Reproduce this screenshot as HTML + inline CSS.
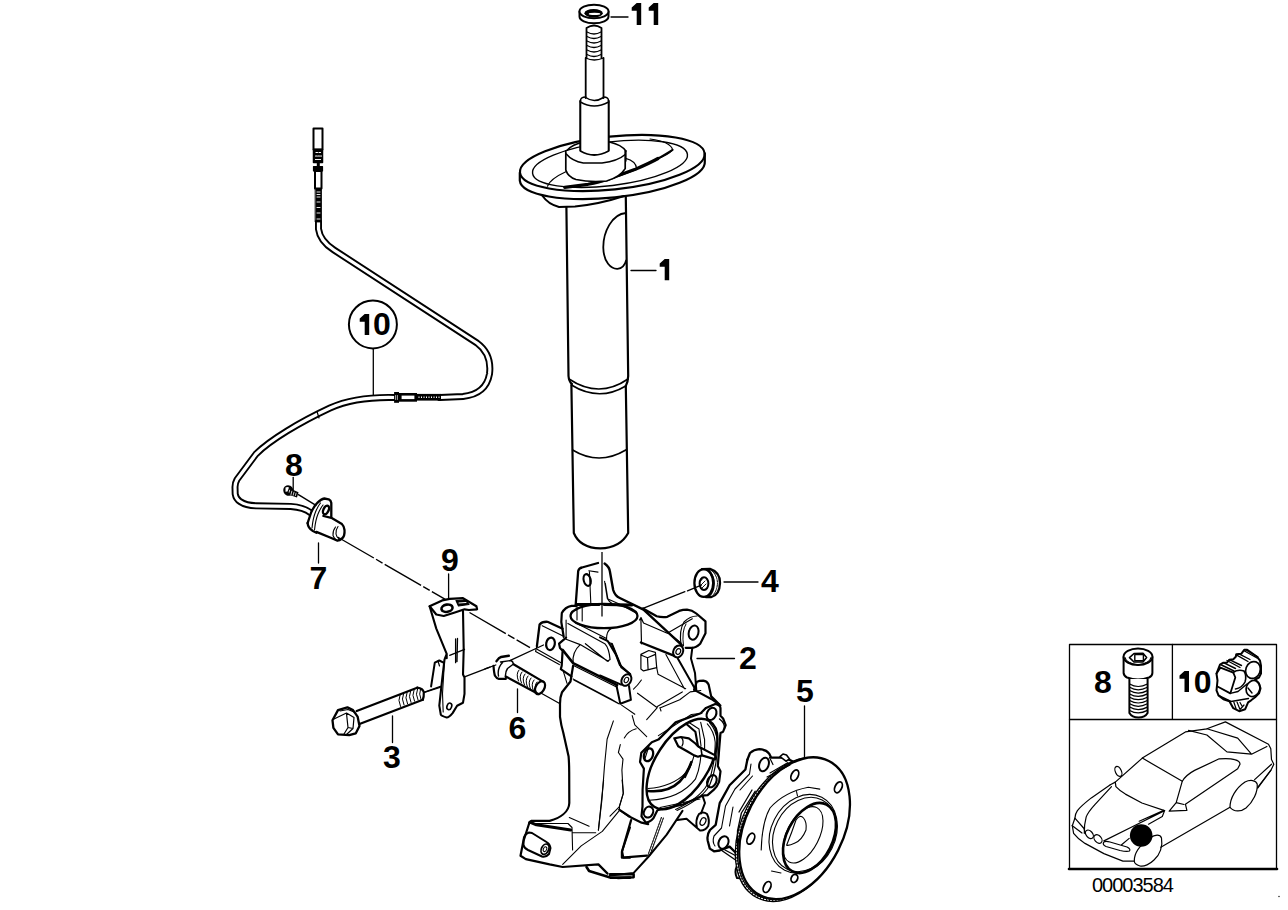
<!DOCTYPE html>
<html><head><meta charset="utf-8"><style>
html,body{margin:0;padding:0;background:#fff;width:1288px;height:910px;overflow:hidden}
svg{display:block}
text{font-family:"Liberation Sans",sans-serif}
.lb{font-weight:bold;font-size:32px;fill:#000}
</style></head><body>
<svg width="1288" height="910" viewBox="0 0 1288 910">
<rect x="0" y="0" width="1288" height="910" fill="#fff"/>
<g fill="none" stroke="#000" stroke-width="1.6" stroke-linejoin="round" stroke-linecap="round">

<!-- ========== LABELS ========== -->
<g id="labels" stroke="none">
<path d="M631.7,7.5L636.7,3.0L641.2,3.0L641.2,25.0L636.7,25.0L636.7,10.8L631.7,10.8Z" fill="#000"/><path d="M648.7,7.5L653.7,3.0L658.2,3.0L658.2,25.0L653.7,25.0L653.7,10.8L648.7,10.8Z" fill="#000"/>
<path d="M659.7,263.5L664.7,259.0L669.2,259.0L669.2,280.2L664.7,280.2L664.7,266.8L659.7,266.8Z" fill="#000"/>
<text class="lb" x="761" y="592">4</text>
<text class="lb" x="739" y="669">2</text>
<text class="lb" x="796" y="702">5</text>
<text class="lb" x="508.5" y="739">6</text>
<text class="lb" x="383" y="768">3</text>
<text class="lb" x="309.6" y="588.6">7</text>
<text class="lb" x="285" y="476">8</text>
<text class="lb" x="441" y="571">9</text>
<path d="M359.7,318.5L364.7,314.0L369.2,314.0L369.2,335.0L364.7,335.0L364.7,321.8L359.7,321.8Z" fill="#000"/><text class="lb" x="373.1" y="335.1">0</text>
<text class="lb" x="1094" y="693">8</text>
<path d="M1179.5,675.5L1184.5,671.0L1189.0,671.0L1189.0,692.0L1184.5,692.0L1184.5,678.8L1179.5,678.8Z" fill="#000"/><text class="lb" x="1193.7" y="693">0</text>
<text x="1092" y="892" font-size="20" letter-spacing="-1" fill="#000">00003584</text>
</g>

<!-- leaders -->
<g stroke-width="1.3">
<path d="M611,17H628"/>
<path d="M631,270.5H656"/>
<path d="M724,582H758"/>
<path d="M697,658.5H734.5"/>
<path d="M804.5,706V757.5"/>
<path d="M517.5,689V712.5"/>
<path d="M392.5,716V742.5"/>
<path d="M318.5,543V563"/>
<path d="M293.2,477.5V490"/>
<path d="M448.6,574V599"/>
<path d="M373.3,349.5V398"/>
</g>
<circle cx="372.9" cy="324.4" r="24" stroke-width="2"/>

<!-- ========== STRUT ========== -->
<g id="strut">
<!-- washer -->
<path d="M579.5,11.5V16.5A14.5,6.8 0 0 0 608.5,16.5V11.5" stroke-width="2"/>
<ellipse cx="594" cy="11.5" rx="14.5" ry="6.8" stroke-width="2" fill="#fff"/>
<ellipse cx="593.6" cy="13.2" rx="9.2" ry="4.2" fill="#000" stroke="none"/>
<ellipse cx="594.5" cy="13.9" rx="5.8" ry="1.1" fill="#fff" stroke="none"/>
<!-- threaded rod -->
<path d="M586.5,58V28Q594,23 601.5,28V58" stroke-width="1.8"/>
<path d="M587,32Q594,36 601,32M587,36.5Q594,40.5 601,36.5M587,41Q594,45 601,41M587,45.5Q594,49.5 601,45.5M587,50Q594,54 601,50M587,54.5Q594,58.5 601,54.5" stroke-width="1.3"/>
<path d="M585.7,58V98M603.5,58V98" stroke-width="1.8"/>
<path d="M585.7,58Q594,62 603.5,58" stroke-width="1.3"/>
<!-- collar -->
<path d="M580.4,101V151Q594,159 608.6,151V101" stroke-width="1.8"/>
<path d="M580.4,101Q580.4,97 585.7,97M603.5,97Q608.6,97 608.6,101M580.4,102Q594,110 608.6,102" stroke-width="1.5"/>
<!-- bump stop -->
<path d="M585,142Q572,144 566.3,151M609.5,142Q622,145 625.8,151" stroke-width="1.6"/>
<path d="M566.3,151V171Q596,190 625.8,167V151" stroke-width="1.6"/>
<path d="M566.3,151Q596,172 625.8,151" stroke-width="1.4"/>
<!-- plate -->
<path d="M519.8,172.7V180.7A92.8,26.5 -6 0 0 704.8,161.3V153.3" stroke-width="2.2" fill="#fff"/>
<ellipse cx="612.3" cy="163" rx="92.8" ry="26.5" transform="rotate(-6 612.3 163)" stroke-width="2.1"/>
<ellipse cx="610" cy="163.8" rx="78" ry="21.8" transform="rotate(-7 610 163.8)" stroke-width="1.4"/>
<path d="M547.5,186.2Q550,179 566.3,171.5" stroke-width="1.2"/>
<path d="M650,139Q671,142 672.6,149.8Q668,155 656.4,159.2M636.7,169.4L618.8,176.2" stroke-width="1.2"/>
<path d="M625.6,158.3Q636,161 636.7,168.6" stroke-width="1.2"/>
<path d="M564.7,187.3L588,184.3Q600,182 606.6,179.8L634.6,169.6Q650,163 658,158.5" stroke-width="3.2"/><path d="M656,159.7Q666,154 672.6,149.8" stroke-width="2"/>
<!-- redraw bump stop over plate -->
<path d="M565.8,151V170Q568,177 576,179.5Q590,182.5 606.6,181Q620,177 625.2,168.6V151" stroke-width="1.7" fill="#fff"/>
<path d="M566.3,154Q572,161 583.3,163L602,163Q618,161 625.2,154.5" stroke-width="1.5"/>
<path d="M580.4,101V151Q594,159 608.6,151V101" stroke-width="1.8" fill="#fff"/>
<path d="M580.4,102Q594,110 608.6,102" stroke-width="1.5"/>
<path d="M585.7,97.5Q594,103.5 603.5,97.5" stroke-width="1.5"/>
<!-- under plate rubber -->
<path d="M542.6,196Q548,204 559,207L575,206.5Q600,204 624,196" stroke-width="2"/>
<!-- tube -->
<path d="M566.4,207L568.5,376Q569,382 572,384M625.8,197L628.2,376Q628,382 625.8,386" stroke-width="2.2"/>
<path d="M569,379Q599,399 628,379" stroke-width="1.7"/>
<path d="M571.4,385Q599,402 625.8,386" stroke-width="1.7"/>
<path d="M571.4,385L573.8,533Q580,548 600.4,548.4Q620,548 628.2,533L625.8,386" stroke-width="2.2"/>
<path d="M572.6,450Q599,466 625.8,450" stroke-width="1.7"/>
<path d="M626,213C612,214 603,232 603.3,248C603.6,262 611,269 617.4,268.8C622,268.5 625,265 626.2,260.3" stroke-width="1.8"/>
</g>

<!-- ========== CABLE ========== -->
<g id="cable">
<path id="cab" d="M318.5,222V229Q320,241 334,250L477,343Q492,354 489.5,374Q486,394 463,396.5L440,397.5M394.6,397.5C375,397 350,399 330,408C300,422 270,440 256,454L237,479.5Q235,483 235,487L235.2,494Q236,499 240,501.5Q246,505.5 256,505.8L290.7,506.4C300,507 306,509 311,513" stroke-width="7"/>
<path d="M318.5,222V229Q320,241 334,250L477,343Q492,354 489.5,374Q486,394 463,396.5L440,397.5M394.6,397.5C375,397 350,399 330,408C300,422 270,440 256,454L237,479.5Q235,483 235,487L235.2,494Q236,499 240,501.5Q246,505.5 256,505.8L290.7,506.4C300,507 306,509 311,513" stroke="#fff" stroke-width="3.2"/>
<!-- connector top -->
<rect x="313.5" y="128.5" width="9" height="21" stroke-width="2"/>
<rect x="313.5" y="149.5" width="9" height="13" fill="#000" stroke-width="1.5"/>
<path d="M316,152.5h1.5M319,152.5h1.5M315.5,156h1.5M318,156h1.5M320.5,156h1M315.5,159.5h1M317.5,159.5h1M319.5,159.5h1" stroke="#fff" stroke-width="1.2"/>
<rect x="316.8" y="162.5" width="3" height="4" fill="#000" stroke="none"/>
<rect x="313.5" y="166.5" width="9" height="4.5" fill="#000" stroke-width="1.2"/>
<rect x="315" y="171" width="6.5" height="17.5" stroke-width="2"/>
<rect x="315.5" y="188.5" width="6" height="33.5" fill="#000" stroke-width="0.8"/>
<path d="M317,192h3M317,194.5h3M317,197h3M317,202h3M317,207.5h3M317,213h3M317,219h3" stroke="#fff" stroke-width="0.9"/>
<!-- connector middle -->
<rect x="417" y="393.9" width="24" height="6.7" fill="#000" stroke="none"/>
<path d="M418.5,397.3H440.5" stroke="#fff" stroke-width="1.6" stroke-dasharray="1 1.5" stroke-linecap="butt"/>
<rect x="400.3" y="394.3" width="15.4" height="6.1" stroke-width="2.6" fill="#fff" stroke-linejoin="miter"/>
<rect x="394.1" y="392" width="4.9" height="10.8" fill="#000" stroke="none"/>
<path d="M395.6,395.5V399.5M397.4,395.5V399.5" stroke="#fff" stroke-width="0.7"/>
<path d="M317,411.5L319,418" stroke-width="1.2"/>
<!-- sensor -->
<path d="M307.6,523.1L311.1,512.5Q314,506 317.3,502.9Q321,499 324.3,498.5L328.7,499.3Q331,500.5 331.3,502.9L331.3,516.9L341.9,524Q344,526 344.5,530Q345,536 342,538.5Q339.5,540.5 337.5,540.7L331.3,538L316.4,532.7Q309,529 307.6,523.1Z" stroke-width="0" fill="#fff"/>
<path d="M307.6,523.1L311.1,512.5Q314,506 317.3,502.9Q321,499 324.3,498.5L328.7,499.3Q331,500.5 331.3,502.9L331.3,516.9" stroke-width="2.3"/>
<path d="M307.6,523.1Q308,528 312.9,531L316.4,532.7" stroke-width="2.3"/>
<path d="M312,528Q313,518 315.5,512Q318,506 320.5,503M314.5,530Q315.5,520 318,514Q320.5,508 323,505" stroke-width="1.1"/>
<ellipse cx="326" cy="510" rx="2.6" ry="4.6" transform="rotate(25 326 510)" stroke-width="2.4"/>
<path d="M323.4,516L331.3,517.8L341.9,524Q344,526 344.5,530Q345,536 342,538.5Q339.5,540.5 337.5,540.7L331.3,538L316.4,531.9" stroke-width="2.3"/>
<path d="M335.5,527Q332.5,531 333,535.5Q334,539 337.5,540.7M338,526.5Q335.5,530 336,534Q336.5,537.5 339.5,539.5" stroke-width="1.1"/>
<!-- screw 8 -->
<ellipse cx="288.3" cy="490.5" rx="5" ry="5.4" transform="rotate(-20 288.3 490.5)" fill="#000" stroke="none"/>
<path d="M290,488.5L298.5,492.3L297,497.5L289.5,495Z" fill="#000" stroke="none"/>
<path d="M285.5,487.6Q287.5,486.5 289,487.5L287.5,491.5L285.5,491.8Z" fill="#fff" stroke="none"/>
<path d="M289.6,490.2L289.2,492.2M291.8,491.2L291,494.5M294,492.2L293.2,495.2M296,493.2L295.5,495.5" stroke="#fff" stroke-width="0.8"/>
</g>

<!-- ========== KNUCKLE ========== -->
<g id="knuckle">
<!-- ear / clamp -->
<path d="M575.6,606L578.2,571Q579,568 582,567.5L598,563" stroke-width="2.3"/>
<path d="M604.6,563.6Q609.5,567 610,572L613.2,590Q615,596 619.8,598L643.5,609.6L681.8,645.2" stroke-width="2.4"/>
<path d="M643,608.5L656.7,616.2Q662,617.5 667.3,616.8L679.1,610.9Q683,609.6 687,609.6Q692,610 696.3,613.5L705.5,621.4L705.5,633.3L700.2,643.8Q696,647.8 692.3,647.8L685.7,647.8" stroke-width="2.2"/>
<ellipse cx="587.2" cy="580" rx="3.5" ry="6" transform="rotate(-15 587.2 580)" stroke-width="2"/>
<path d="M588.8,570.8L598,572.1M589.4,571.5L590.8,603M604.6,581.4L607.3,598.5Q609,602 612.5,603.8M605.3,583.2L607.9,599L619.8,604.3L636.9,613.5" stroke-width="1.1"/>
<!-- bore -->
<ellipse cx="604" cy="616" rx="33.5" ry="12.2" stroke-width="2.3"/>
<path d="M576.3,604.6L599,604.6M604,604.4L632,605" stroke-width="3"/>
<path d="M561.8,613Q565,607 571.6,605.8L576.3,605.8M561.8,613L561.3,622L563.7,636.8" stroke-width="2.2"/>
<path d="M570.3,614.3Q572,611 576.3,609.7M582.2,606.4V621M577,606V620M566.1,620V636.7" stroke-width="1.1"/>
<path d="M640.9,618.8L641.5,643.8M639.5,620L641,617.5L643.5,623L667.3,633.3L692.3,618.8M610.9,628.8Q606.5,631 606.5,639.3Q607,642 611.8,643.7L621.5,667.5" stroke-width="1.2"/>
<path d="M611.8,643.7L621.5,667.5L630.3,674.2" stroke-width="2"/>
<!-- bushing eye -->
<path d="M681,645Q679,630 684,622Q690,616 697,616" stroke-width="1.2"/>
<path d="M683.5,646Q681.5,631 686,624" stroke-width="1"/>
<ellipse cx="693.6" cy="632.6" rx="4.8" ry="7.2" transform="rotate(15 693.6 632.6)" stroke-width="2"/>
<!-- pin boss -->
<ellipse cx="678.2" cy="651.4" rx="4.8" ry="6.2" transform="rotate(25 678.2 651.4)" stroke-width="2"/>
<ellipse cx="678.3" cy="651.5" rx="2.2" ry="3" transform="rotate(25 678.3 651.5)" stroke-width="1.2"/>
<path d="M640.9,642.5L673.8,655.7" stroke-width="2.4"/>
<path d="M667.3,632L681,643" stroke-width="1.2"/>
<!-- small block -->
<path d="M640.9,654.4L648.8,650.5L655.4,652.4L656.7,667.6L643.5,670.9L640.9,669Z M640.9,655L647.5,657.7L655.4,654.4M647.5,657.7L648.1,669.6" stroke-width="1.2"/>
<path d="M656.7,667.6L658,674.2L685.7,688.7M665.9,654.4L684.4,688.7" stroke-width="1.1"/>
<path d="M677.8,658.4L695,688.7M692.3,647.8L691,658.4L695,672.9L696.3,690" stroke-width="2"/>
<!-- left lug -->
<path d="M536.9,646.2L539.6,624.4Q542,621.5 547.5,621.8L562.6,628.8" stroke-width="2.3"/>
<path d="M542.2,625.7L562.6,635.8M535.6,651.4L559.3,664.6M537.5,649.5L560.5,662.5M536.9,646.2L535.6,651.4" stroke-width="1.2"/>
<ellipse cx="550.5" cy="643.8" rx="4.3" ry="6.3" transform="rotate(10 550.5 643.8)" stroke-width="2.2"/>
<!-- left body -->
<path d="M566.1,637.6L559.1,643.7L560,648.1L562.6,650.8L561.7,665.7L560.8,669.2L571.4,676.3" stroke-width="2.2"/>
<path d="M562.6,649.9L573.1,663.1L617.1,685.1" stroke-width="2.5"/>
<path d="M573.5,665.5L617.1,687.2M566.1,639.3L580.2,644.6L608.3,661.3M580.2,644.6Q572,652 573.1,663.1M567.9,623.5L604.8,643.7Q609,648 610.1,659.6L607.4,661.3L585.4,643.7M575,622.5L606.5,638.5" stroke-width="1.2"/>
<path d="M573.1,665.7L570.5,681.5L562,692.3Q560,697 560,703.7L560,716.9Q561,725 563.3,732.7L568.6,756.5Q569.2,764 569.2,772.3L569.3,803C569,812 560,818 549.6,820.9L531.1,820.9L529.1,823.5" stroke-width="2.2"/>
<path d="M563.5,671.9L567,683.3M573.1,678.9L610.9,699.1L619,703.7M573.8,680L618.7,703.7" stroke-width="1.1"/>
<!-- pin boss 2 -->
<ellipse cx="626.4" cy="680" rx="4.6" ry="6.2" transform="rotate(30 626.4 680)" stroke-width="2"/>
<ellipse cx="626.4" cy="680" rx="2" ry="2.8" transform="rotate(30 626.4 680)" stroke-width="1.1"/>
<path d="M600,637.3L607.9,641.2L615.8,654.4L619.8,665L630.3,674.2M600,675.5L621.1,684.7" stroke-width="2"/>
<path d="M616.4,685.3L620.3,703.7L630.9,699.8L629,686" stroke-width="2"/>
<path d="M621.6,705.1L634.8,714.3M632.2,715.6L634.8,724.8L646.7,736.7M624.3,738Q628,731 636.2,728.8M637.5,693.2L657.3,707.7L646.7,719.6M657.3,706.4L682.3,691.9M659.9,707.7L661,711M659.9,708L679.7,699.8L690.2,691.9L700.8,690.5M633.5,689.2Q638,685 641.4,680" stroke-width="1.1"/>
<path d="M613.4,720.9L607.1,739.3L604.5,765.7L601.9,800L598.4,830.1M620.3,744.6L618.4,752.5L623,759.1L621.9,770L623.2,793.7L619.2,806.9L610,816.2" stroke-width="1.1"/>
<!-- flange -->
<path d="M694.1,689.8L696.7,681.9Q699,680.6 703.3,680.6Q707,681 708.6,684.5L711.2,696.4L720.4,705.6" stroke-width="2.2"/>
<path d="M694.1,689.8L711.2,699L719.1,704.3" stroke-width="2"/>
<path d="M700.7,713.2L706,707.9L715.2,704Q720,705 720.5,707.9L720.5,715.8L723.1,718.5L725.7,725.1L723.1,731.7L720.5,733L717.8,766L720.5,771.3L719.1,781.8Q717,787 713.9,789.7L707.6,795.1L702.3,795.7L683,804.5L657.4,810.3L653.4,818.2Q649,823 645.5,822.2L641.5,816.3L642.5,806.4L642.6,789.7L643.9,768.6L640,762L641.3,752.8L651.8,742.2L658.4,739.6L675.6,722.4L700.7,713.2" stroke-width="2.2"/>
<path d="M719.5,719Q725,723 724.5,729" stroke-width="1.4"/>
<path d="M658.4,735.6L691.4,714.5L702,713.2M720,735L718,764M649,746L644.5,760M700,799L660,807.5" stroke-width="1.1"/>
<ellipse cx="711.5" cy="713.9" rx="4.6" ry="6.4" transform="rotate(25 711.5 713.9)" stroke-width="2.1"/>
<ellipse cx="648.5" cy="754.8" rx="4.4" ry="6.6" transform="rotate(20 648.5 754.8)" stroke-width="2.3"/>
<ellipse cx="711.9" cy="781.2" rx="4.4" ry="6.4" transform="rotate(25 711.9 781.2)" stroke-width="2.1"/>
<ellipse cx="648.5" cy="812.1" rx="4.5" ry="5.6" transform="rotate(25 648.5 812.1)" stroke-width="2.1"/>
<!-- bearing bore -->
<ellipse cx="682" cy="764" rx="51" ry="26.2" transform="rotate(-57 682 764)" stroke-width="2.4"/>
<path d="M647.9,791Q668,793 679.5,781.8Q688,772 691.4,762" stroke-width="2.6"/>
<path d="M685,777L691,764" stroke-width="2.2" stroke-dasharray="1.5 1"/>
<path d="M647.9,788.5Q672,787 686.1,772.6Q692,764 694.1,755.4M649.2,800.3Q680,799 695.4,779.2Q700,768 700.7,756.7" stroke-width="1.1"/>
<path d="M686.1,723.8L695.4,731.7L698,746.2" stroke-width="2.1"/>
<path d="M689,722.5L699,729L701,746M700.7,722.4L704.6,739.6L704.6,755.4M707.3,723.8Q714,731 715.2,742Q715.5,766 707.3,784.5Q700,798 675.6,809.5M709.5,722.5Q716.5,730 717.5,742Q717.5,767 709.5,785.5Q702,799 677,810.5" stroke-width="1.1"/>
<path d="M674.3,738.3L680.9,737L688.8,738.3L695.4,743.5L698,746.2L715.2,755.4L715.2,759.4L702,755.4L698,756.7L694.1,755.4L687.5,751.5L678.2,746.2Z" stroke-width="2.2" fill="#fff"/>
<path d="M681.5,737.5Q684.5,741.5 682,746" stroke-width="1.3"/>
<path d="M698,746.2L701,748.5L702,755.4" stroke-width="1.6"/>
<!-- lower arm & ball joint -->
<path d="M619.2,809.6L631.1,817.5L641.6,822.7L648.2,824.1" stroke-width="2.2"/>
<path d="M631.1,820.1L621.9,851.8L621.9,857.7L646.9,855.7" stroke-width="2.2"/>
<path d="M661.4,817.5L648.2,854.4M663.4,818L650,855" stroke-width="1.1" stroke-dasharray="2 1"/>
<path d="M682.5,810.9L666.7,834.6L648.2,857L633.7,872.9L610,875.5" stroke-width="2"/>
<path d="M610,874.2L633.7,874.2L633.7,877.2L617.9,878.1" stroke-width="2.4"/>
<path d="M529.1,823.5L523.2,842L520.5,855.8L525.8,859.1L549.6,864.4L562.7,867L598.4,864.4L607.6,873.6" stroke-width="2.2"/>
<path d="M529.8,822.2L536.4,824.8L570.7,830.1" stroke-width="3"/>
<path d="M535,823.5L568,823.5L572,827.5L572.6,849.9M572.6,832.7L595.7,832.7M569.3,817.6L589.1,826.2M603.6,780L598.4,830.1M619.5,810.3L602.3,831.4L581.2,845.9L562.7,864.4M622.1,780L623.4,793.2L619.5,806.4L619.5,810.3L628.7,816.9" stroke-width="1.1"/>
<path d="M586.5,867L589.1,871L610.2,877.6L630,877.6" stroke-width="2.6"/>
<path d="M630,827.5L622.1,851.2L623.4,857.8L630,857.8" stroke-width="2"/>
<path d="M529,832.5Q524,834 523.5,840L523.5,845Q524,848 528,850L542,856.5Q546,857.5 549,854L550.5,848Q550,844 546.5,842L532,833Q530.5,832.5 529,832.5Z" stroke-width="2"/>
<ellipse cx="545" cy="849.2" rx="3.6" ry="5.4" transform="rotate(25 545 849.2)" stroke-width="1.8"/>
<ellipse cx="545" cy="849.2" rx="1.6" ry="2.5" transform="rotate(25 545 849.2)" stroke-width="1"/>
<path d="M697,828Q695,820 699,814Q703,811 707,814Q710,820 708.2,826Q705,831 700,830.5L686.5,818.8L677.3,820.1" stroke-width="2"/>
<ellipse cx="703" cy="821.5" rx="2.6" ry="4" transform="rotate(25 703 821.5)" stroke-width="1.3"/>
<path d="M702.3,795.1L705,803L701,813.5" stroke-width="2"/>
</g>

<!-- ========== NUT 4 ========== -->
<g id="nut4">
<path d="M643,608.3L684.9,591.7M687.5,590.9L701.3,585.2" stroke-width="1.3"/>
<path d="M702,569.2L710,568.8Q720.2,572 720,583Q719.7,595 711,597.2L705.8,597" stroke-width="2.3"/>
<ellipse cx="703.8" cy="583" rx="9.4" ry="13.9" stroke-width="2.3"/>
<path d="M708.5,570.5Q713.8,576 713.8,583.5Q713.5,592 709,596" stroke-width="2.2"/>
<path d="M710.5,570Q717,574 717.5,583Q717,591 713,595" stroke-width="1" stroke-dasharray="1.5 1"/>
<ellipse cx="704" cy="583.6" rx="4.4" ry="6.3" stroke-width="2"/>
<path d="M700.5,581L703,578.5M701,585L705,581M702,588L706,584" stroke-width="0.9"/>
</g>
<!-- ========== BOLT 6 ========== -->
<g id="bolt6">
<path d="M485,668.8L495.8,665M510.4,660.4L543.5,645" stroke-width="1.3"/>
<path d="M540.4,692.7L559.6,703.5" stroke-width="1.3"/>
<path d="M496.5,661.2Q499,657.5 501,657L508.8,655.8" stroke-width="2.4"/>
<path d="M493.5,665.8Q494,673 495,675.8Q496.5,678.5 498.8,678.8L505.8,678.8" stroke-width="2.2"/>
<path d="M500.5,662L511,660.5Q513,661.5 513.5,664L507.5,668.5Q504.5,673 505.8,678.8M498.5,676Q497,668 503,662" stroke-width="1.4"/>
<path d="M513.5,664.2L543.5,681.9M505.8,676.5L538.8,694.2" stroke-width="2.2"/>
<ellipse cx="540" cy="687.7" rx="4.3" ry="7" transform="rotate(30 540 687.7)" stroke-width="2.2"/>
<path d="M519,670Q515.5,674 518.5,681M522,672Q518.5,676 521.5,683M525,674Q521.5,678 524.5,685M528,676Q524.5,680 527.5,687M531,678Q527.5,682 530.5,689M534,680Q530.5,684 533.5,691M537,682Q533.5,686 536.5,692.5" stroke-width="1"/>
</g>
<!-- ========== BOLT 3 ========== -->
<g id="bolt3">
<path d="M423.8,692.4L440.5,686.3" stroke-width="1.3"/>
<path d="M332.5,720.3L338,710.1L347.4,707.3L353,710.1L357.6,716.6L359.5,725.9L355.7,733.4L349.2,735.2L338,734.3L333.4,727.8Z" stroke-width="2.3"/>
<path d="M334,719L346.5,713L354,717.5L353,728.5L346.5,734.5M346.5,713.5L348,727.5L353,728.5M348,727.5L344,734M340,711L348,709.5L354,712" stroke-width="1.2"/>
<path d="M356.7,711L417.2,687.7M359.5,724L422.8,699.8" stroke-width="2.3"/>
<path d="M417.2,687.7Q423,688.5 423.8,692.4Q424,697 422.8,699.8" stroke-width="2.2"/>
<path d="M400,695Q397.5,700 400.5,706.5M403.5,693.8Q401,698.8 404,705M407,692.5Q404.5,697.5 407.5,703.8M410.5,691.2Q408,696.2 411,702.5M414,690Q411.5,695 414.5,701.2M417.5,689Q415,694 418,700M420.5,689Q418.5,694 421,699.5" stroke-width="1"/>
</g>
<!-- ========== BRACKET 9 ========== -->
<g id="bracket9">

<path d="M424.4,692.3L440.8,687.1M464.5,676.8L490,667.1" stroke-width="1.3"/>
<path d="M429.6,606.3L442.2,600.4L449.7,598.9L463,598.2L476.4,606.3L477.1,609.3L468.9,610L464.5,609.3L455.6,612.2L443.7,616L436.3,614.5Z" stroke-width="2.2" fill="#fff"/>
<ellipse cx="447" cy="608.2" rx="5.6" ry="3.6" transform="rotate(-10 447 608.2)" stroke-width="2.6"/>
<path d="M456,600.5L465.5,600L469,604.5L458.5,606Z" fill="#000" stroke-width="1.2"/><path d="M459,603L466,602.5" stroke="#fff" stroke-width="1"/>
<path d="M429.6,606.3L436.3,628.6L446.7,653.8L446.7,658.2M463,610.8L463.7,649.3L463,674.5L464.5,677.5L464.5,693.8L463,702.7L457.1,705.7L452.6,713.1Q449,717.5 446.7,717.5Q441.5,716 440.8,714.6L439.3,705.7L442.2,679L444.5,659.7L446.7,653.8" stroke-width="2.1"/>
<path d="M444.5,661L442.5,693.5L443.2,712" stroke-width="1.1"/>
<path d="M455.6,639V662.7M457.5,638.5L457,661.5M449.7,655.3L464.5,649.3" stroke-width="1.3"/>
<path d="M431.1,686.4L434.8,662.7L439.3,660.5L443.5,662.7" stroke-width="2"/>
<path d="M438,661L439.5,666" stroke-width="1.2"/>
<ellipse cx="449.3" cy="706.4" rx="2.3" ry="3.4" transform="rotate(20 449.3 706.4)" stroke-width="1.6"/>
</g>
<!-- ========== HUB 5 ========== -->
<g id="hub5">
<path d="M747.4,759.6L750,753Q754,749.5 759.2,749.2Q766,749.5 769.1,753.6L771.1,757.6L785,757.6L792.9,761.5" stroke-width="2.3"/>
<path d="M780,756.7L783,754L786.5,755L789.5,759L786,761.2Z" stroke-width="1.6" fill="#fff"/><path d="M769.5,757.5L773,764.5" stroke-width="1.2"/>
<path d="M747.4,759.6L745.4,769.5L729.6,785.3L719.7,803.1L715.7,824.8L710,830Q706.5,835 707.8,841L709.8,848.6L714,851.3L719.7,850.5L729.6,846.6L735.5,852.5L737.5,858.5" stroke-width="2.3"/>
<path d="M751,764L749.5,774L735,789L725.5,806L721.5,828L714,836Q712,842 715,846M752.5,776L740,790M733,807L729.5,826" stroke-width="1.1"/>
<ellipse cx="764" cy="764.5" rx="4.6" ry="7" transform="rotate(20 764 764.5)" stroke-width="2"/>
<ellipse cx="723.5" cy="842.5" rx="4.8" ry="6.4" transform="rotate(25 723.5 842.5)" stroke-width="2"/>
<path d="M725,850L740,858M721,850L737,861" stroke-width="1.4"/>
<path d="M737,866Q734,872 737,878L741.4,878.2" stroke-width="2"/>
<ellipse cx="791.8" cy="829.5" rx="48.8" ry="75.4" transform="rotate(27 791.8 829.5)" stroke-width="3.6" fill="#fff"/>
<ellipse cx="791.8" cy="829.5" rx="48.8" ry="75.4" transform="rotate(27 791.8 829.5)" stroke-width="1" stroke="#fff" stroke-dasharray="1.3 1.8"/>
<ellipse cx="794.6" cy="828.2" rx="48.8" ry="75.4" transform="rotate(27 794.6 828.2)" stroke-width="2.3" fill="#fff"/>
<path d="M755.3,791.2L741.4,813L737.5,830.8L737.5,858.5M752,790L739,812" stroke-width="1.3"/>
<path d="M770,773L788,762.5M767,777L790,765" stroke-width="1.1"/>
<ellipse cx="838.4" cy="787.3" rx="3.4" ry="5.8" transform="rotate(25 838.4 787.3)" stroke-width="1.8"/>
<ellipse cx="794.8" cy="775.4" rx="3.4" ry="5.8" transform="rotate(25 794.8 775.4)" stroke-width="1.8"/>
<ellipse cx="750.8" cy="838.7" rx="3.4" ry="5.8" transform="rotate(25 750.8 838.7)" stroke-width="1.8"/>
<ellipse cx="767.1" cy="887" rx="3.4" ry="5.8" transform="rotate(25 767.1 887)" stroke-width="1.8"/>
<ellipse cx="794.4" cy="878.4" rx="3.2" ry="4.2" transform="rotate(25 794.4 878.4)" stroke-width="1.8"/>
<path d="M761.2,850Q762,822 770,808Q784,792 808.3,787.2L819.8,789.1M796.5,791.5L797.5,796" stroke-width="1.1"/>
<ellipse cx="803.2" cy="833.8" rx="32.2" ry="40.9" transform="rotate(27 803.2 833.8)" stroke-width="1.1"/>
<ellipse cx="804.5" cy="834.5" rx="30" ry="38.8" transform="rotate(27 804.5 834.5)" stroke-width="1.1"/>
<ellipse cx="809.5" cy="838" rx="22.8" ry="37.5" transform="rotate(27 809.5 838)" stroke-width="2.6"/>
<ellipse cx="803" cy="834.8" rx="16.2" ry="30.5" transform="rotate(27 803 834.8)" stroke-width="1.1"/>
<path d="M786.6,845.2Q792,832 796,820Q800,814 803.5,818Q807,822 806,830Q802,840 795,843Q789,846 786.6,845.2" stroke-width="1.1"/>
<path d="M771.5,871L781,873" stroke-width="1.1"/>
</g>

<!-- dashed alignment lines -->
<g stroke-width="1.4" stroke-linecap="butt">
<path d="M298,494.3L316.4,505.7"/>
<path d="M337.5,537L445.3,599.3" stroke-dasharray="42 2.5 7.5 2.5"/>
<path d="M469.5,612.5L530,647.7" stroke-dasharray="42 2.5 7.5 2.5"/>
<path d="M602,552V616.5" stroke-width="1.3"/>
</g>

<!-- ========== INSET ========== -->
<g id="inset">
<rect x="1069.5" y="644.5" width="207" height="224.5" stroke-width="1.3"/>
<path d="M1069,869H1277" stroke-width="2.6"/>
<path d="M1172.4,644.5V719.5M1069.5,719.5H1276.5" stroke-width="1.3"/>
<!-- inset contents -->
<g id="screw8">
<path d="M1123.6,657V673Q1124,676 1127,677.5Q1138,681.5 1149,677.5Q1152.3,676 1152.4,673V657" stroke-width="2" fill="#fff"/>
<ellipse cx="1138" cy="656.8" rx="14.4" ry="8.3" stroke-width="2" fill="#fff"/>
<path d="M1125,657.5Q1126,663 1138,665Q1150,663 1151,657.5" stroke-width="1.2"/>
<path d="M1129.5,657.6L1134,653.5L1143,653.3L1146.6,657.6L1143,662L1134,662Z" stroke-width="1.6"/>
<rect x="1134.8" y="654.6" width="8.6" height="6.2" stroke-width="1.4"/>
<path d="M1129.4,679V713Q1132,717.5 1138.5,717.5Q1145,717.5 1147.6,713V679" stroke-width="2" fill="#fff"/>
<path d="M1129.6,684Q1138,689 1147.4,684M1129.6,687.3Q1138,692.3 1147.4,687.3M1129.6,690.6Q1138,695.6 1147.4,690.6M1129.6,693.9Q1138,698.9 1147.4,693.9M1129.6,697.2Q1138,702.2 1147.4,697.2M1129.6,700.5Q1138,705.5 1147.4,700.5M1129.6,703.8Q1138,708.8 1147.4,703.8M1129.6,707.1Q1138,712.1 1147.4,707.1M1129.6,710.4Q1138,715.4 1147.4,710.4" stroke-width="1.2"/>
</g>
<g id="clip10">
<path d="M1220,664.7L1223.4,662.7L1226.9,662.7L1229.4,659.7L1233.3,659.2L1235.8,656.8L1236.3,654.3L1241.2,653.8L1244.2,649.8L1247.2,649.8L1257.1,656.8L1260,660.7L1261,665.7L1261,673.6L1259,677.5L1255.1,679.5L1259,683.5L1260.5,688.4L1259,693.4L1255.1,697.3L1251.1,700.3L1248.1,702.3L1245.2,709.2L1239.2,711.2L1233.3,708.2L1229.4,701.3L1223.4,699.3L1218.5,695.4L1216.5,690.4L1217.5,680.5L1216.5,673.6Z" stroke-width="2"/>
<path d="M1216.5,673.6L1220.4,667.7L1233.3,672.6L1235.3,677.5L1230.3,693.4L1217.5,686.5" stroke-width="1.8"/>
<path d="M1221.5,665L1234,671M1223.4,662.7L1235.5,668.5M1227,660.5L1240,667.5M1229.4,659.7L1241.5,665.5M1236.3,654.8L1248,661.5M1239,653.8L1250,659.5M1244.5,651L1257,658M1246,650L1258,657" stroke-width="1.4"/>
<ellipse cx="1253" cy="670" rx="7.2" ry="8.6" transform="rotate(20 1253 670)" stroke-width="1.7"/>
<path d="M1233,672.5Q1238,669 1244,671Q1247,676 1245,682Q1242,688 1235.5,689" stroke-width="1.6"/>
<ellipse cx="1253" cy="688.5" rx="6.8" ry="8.2" transform="rotate(20 1253 688.5)" stroke-width="1.7"/>
<path d="M1230.3,693.4L1238,691.5L1247,684M1248,688L1252,693M1218.5,695.4L1231,701.5L1248.5,698.5" stroke-width="1.4"/>
<path d="M1233.8,702L1236,708.5M1237,702L1240,709.5L1244,705M1240,702.5L1242,706" stroke-width="1.2"/>
</g>
<g id="car" stroke-width="1.2">
<path d="M1110.3,784.7L1115.3,782.1L1142.3,758.1L1185.4,731.9L1206.9,728.8L1225.4,721.9L1268.5,744.2L1270.8,748.8L1271.5,759.6L1273.8,764.2L1270.8,770.4L1257.7,787.3"/>
<path d="M1142.3,758.1L1182.3,781.2"/>
<path d="M1188.5,730.4L1206.9,735L1226.9,751.9L1251.5,754.2L1266.9,746.5M1206.9,728.8L1237.7,738.1L1251.5,754.2"/>
<path d="M1169.2,811.2L1176.2,802.7L1182.3,781.2Q1186,775 1194.6,770.4L1219.2,758.8Q1230,758 1234.6,759.6Q1240,761 1240,764.2L1237.7,768.8L1185.4,804.2L1186.9,810.4L1169.2,811.2M1176.2,802.7L1184,804.5"/>
<path d="M1160.8,847.3L1230,807.3"/>
<path d="M1230,807.3C1230,798 1236,788 1245,782C1250,779.5 1256,780 1257.2,784C1258,792 1253,802 1246,808C1241,812 1234,812 1230,807.3Z"/>
<path d="M1254.6,779.6L1271.5,764.2M1257.7,788.1L1270.8,770.4"/>
<ellipse cx="1118.4" cy="771.4" rx="3" ry="5.3" transform="rotate(-25 1118.4 771.4)"/>
<path d="M1115.3,782.1L1115.9,786.6Q1120,791 1125.4,794.1L1141.9,803L1164.6,810.6"/>
<path d="M1110.3,784.7L1091.3,797.9Q1081,806 1077.4,810.6Q1075,814 1074.9,818.2L1072.3,825.7"/>
<path d="M1111.5,786.6L1095.1,804.3Q1088,812 1086.2,816.9Q1084,825 1084.3,833.3"/>
<path d="M1074.9,818.2L1084,828.5L1085.5,834M1072.3,825.7L1082,833"/>
<ellipse cx="1089.4" cy="834.3" rx="3.2" ry="4.8" transform="rotate(-40 1089.4 834.3)"/>
<ellipse cx="1098" cy="839" rx="3.4" ry="4.8" transform="rotate(-40 1098 839)"/>
<path d="M1103.5,842.5Q1105,840.5 1110,842L1127,847Q1131,849 1129.5,851Q1127,852 1120,850.5L1106,846.5Q1102.5,845 1103.5,842.5Z"/>
<path d="M1103.9,840.9L1134.3,825.7L1164.6,810.6L1162.3,816.5L1148.5,824.2M1139.2,821.2L1163.8,810.4"/>
<path d="M1072.3,825.7L1073.6,833.3Q1078,839 1085,843.4L1103.9,853.6L1122.9,861.1L1134.3,861.1"/>
<path d="M1134.3,861.1C1134,852 1140,845 1150,838C1155,834.5 1160,834 1161.5,838C1163,846 1160,855 1154,860C1150,864 1144,867 1140,866C1136,865 1134.3,863 1134.3,861.1Z"/>
<path d="M1121.6,844.7L1129.2,838.4"/>
</g>

<circle cx="1141.2" cy="835.5" r="11.3" fill="#000" stroke="none"/>
<circle cx="1279" cy="896.5" r="0.7" fill="#000" stroke="none"/>
</g>

</g>
</svg>
</body></html>
